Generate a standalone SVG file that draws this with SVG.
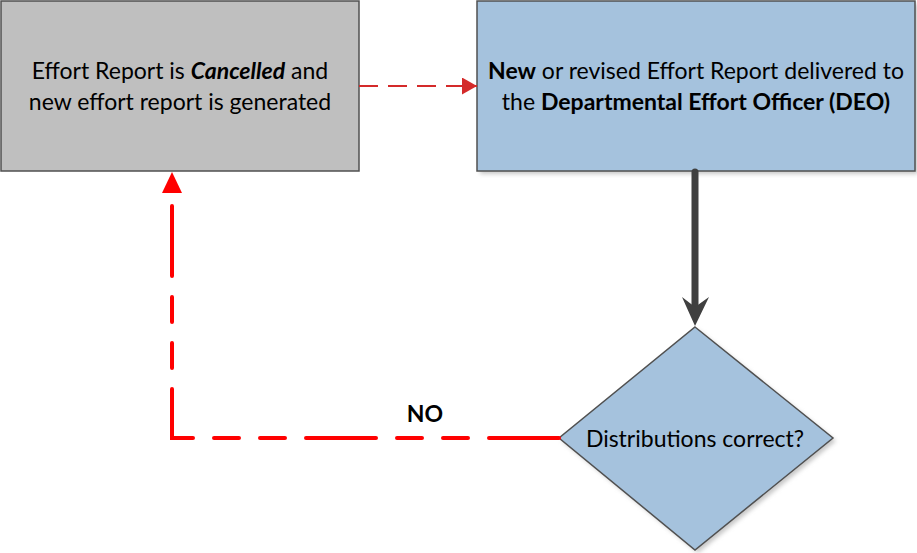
<svg xmlns="http://www.w3.org/2000/svg" width="917" height="553" viewBox="0 0 917 553">
<defs>
<style>
.lbl{font-family:Lato,"Open Sans","Liberation Sans",sans-serif;font-size:23px;fill:#000;text-anchor:middle}
.b{font-weight:bold}
.box{stroke:#505050;stroke-width:1.5}
.blue{fill:#A5C2DD}
.gray{fill:#BFBFBF}
.shadow{fill:#C8C8C8;filter:url(#blur)}
</style>
<filter id="blur" x="-10%" y="-10%" width="120%" height="120%"><feGaussianBlur stdDeviation="2"/></filter>
<marker id="redTip" markerUnits="userSpaceOnUse" markerWidth="16" markerHeight="18" refX="15" refY="8.5" orient="auto"><path d="M0,0 L15,8.5 L0,17 Z" fill="#D42A2A"/></marker>
</defs>
<g id="node-cancelled">
<rect class="box gray" x="1" y="1" width="358" height="170"/>
<text class="lbl" x="180" y="79">Effort Report is <tspan class="b" font-style="italic">Cancelled</tspan> and</text>
<text class="lbl" x="180" y="110">new effort report is generated</text>
</g>
<g id="node-delivered">
<rect class="shadow" x="480" y="4" width="438" height="170"/>
<rect class="box blue" x="477" y="1" width="438" height="170"/>
<text class="lbl" x="696" y="79"><tspan class="b">New</tspan> or revised Effort Report delivered to</text>
<text class="lbl" x="696" y="110">the <tspan class="b">Departmental Effort Officer (DEO)</tspan></text>
</g>
<g id="node-decision">
<polygon class="shadow" points="698,330 836,441 698,553 562,441"/>
<polygon class="box blue" points="695,327 833,438 695,550 559,438"/>
<text class="lbl" x="695" y="447">Distributions correct?</text>
</g>
<g id="connectors">
<line x1="359" y1="86" x2="477" y2="86" stroke="#D42A2A" stroke-width="2.2" stroke-dasharray="19 10" marker-end="url(#redTip)"/>
<line x1="695" y1="172" x2="695" y2="305" stroke="#404040" stroke-width="7" stroke-linecap="round"/>
<polygon points="682,297 695,307 709,297 695,326" fill="#404040"/>
<path d="M559,438 H172 V194" fill="none" stroke="#FF0000" stroke-width="4" stroke-linecap="round" stroke-dasharray="70 21 25 21 25 21"/>
<polygon points="172,172 182,193 162,193" fill="#FF0000"/>
<text class="lbl b" x="425" y="422">NO</text>
</g>
</svg>
